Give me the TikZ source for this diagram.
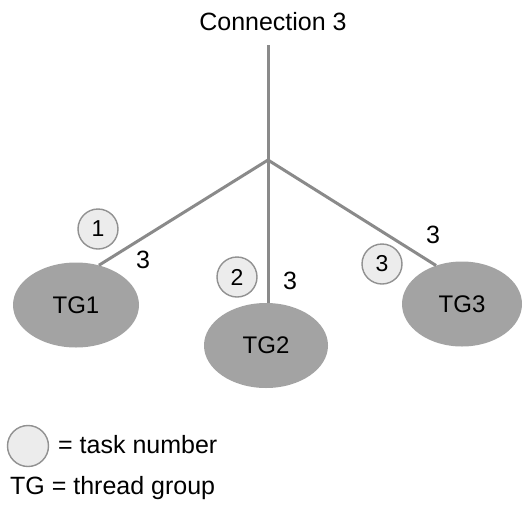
\documentclass[tikz,border=0pt]{standalone}
\usepackage{fontspec}
\setmainfont{Liberation Sans}
\usetikzlibrary{shapes.geometric}
\definecolor{wire}{RGB}{138,138,138}
\definecolor{tgfill}{RGB}{163,163,163}
\definecolor{taskfill}{RGB}{236,236,236}
\definecolor{taskline}{RGB}{145,145,145}

\begin{document}
\begin{tikzpicture}[x=1pt, y=-1pt,
    link/.style={draw=wire, line width=3pt},
    tg/.style={ellipse, fill=tgfill, inner sep=0pt, minimum width=124pt, minimum height=85pt,
        font=\fontsize{24}{28}\selectfont},
    task/.style={circle, draw=taskline, fill=taskfill, line width=1.4pt, inner sep=0pt,
        minimum size=40pt, font=\fontsize{23}{27}\selectfont},
    lbl/.style={inner sep=0pt, font=\fontsize{25}{30}\selectfont}]
    \useasboundingbox (0,0) rectangle (528,504);

    % Connection and hub
    \node[lbl] (conn) at (273,22) {Connection 3};
    \coordinate (top) at (268,45);
    \coordinate (hub) at (268,160);

    % Thread groups
    \node[tg, minimum width=126pt] (tg1) at (76,305) {TG1};
    \node[tg] (tg2) at (266,345.5) {TG2};
    \node[tg, minimum width=120pt] (tg3) at (462,304) {TG3};

    % Wires
    \draw[link] (top) -- (hub);
    \draw[link] (hub) -- (tg1.60);
    \draw[link] (hub) -- (268,303);
    \draw[link] (hub) -- (tg3.124);

    % Task numbers
    \node[task] (task1) at (98,229) {1};
    \node[task] (task2) at (237,277) {2};
    \node[task] (task3) at (382,264) {3};

    % Connection counts
    \node[lbl] (n1) at (143,260) {3};
    \node[lbl] (n2) at (290,281) {3};
    \node[lbl] (n3) at (433,235) {3};

    % Legend
    \node[task, minimum size=41pt] (key) at (28,446) {};
    \node[lbl, anchor=west] (keytxt) at (58,445) {= task number};
    \node[lbl, anchor=west] (tgtxt) at (10,488) {TG = thread group};
\end{tikzpicture}
\end{document}
